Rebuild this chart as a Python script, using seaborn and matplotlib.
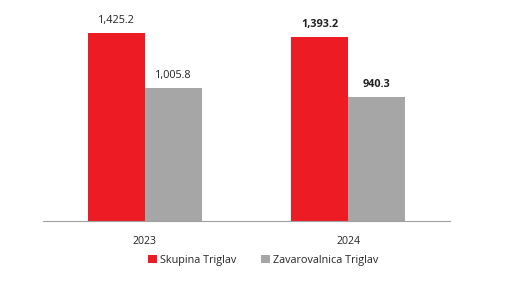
import matplotlib
matplotlib.use("Agg")
import matplotlib.pyplot as plt
import seaborn as sns
import pandas as pd

years = ["2023", "2024"]
series = ["Skupina Triglav", "Zavarovalnica Triglav"]
skupina = [1425.2, 1393.2]
zavarovalnica = [1005.8, 940.3]
colors = ["#ED1C24", "#A6A6A6"]

df = pd.DataFrame({
    "year": years * 2,
    "series": [series[0]] * 2 + [series[1]] * 2,
    "value": skupina + zavarovalnica,
})

sns.set_theme(style="white")
plt.rcParams["font.family"] = ["Open Sans", "DejaVu Sans"]

fig = plt.figure(figsize=(5.12, 3.0), dpi=100)
ax = fig.add_axes([43 / 512, 79 / 300, 407 / 512, 211 / 300])
sns.barplot(data=df, x="year", y="value", hue="series", palette=colors,
            width=0.56, ax=ax, legend=False, saturation=1, linewidth=0)
ax.set_ylim(0, 1600)
ax.set_xlim(-0.5, 1.5)
ax.set_xlabel("")
ax.set_ylabel("")
ax.set_yticks([])
for s in ["top", "right", "left"]:
    ax.spines[s].set_visible(False)
ax.spines["bottom"].set_color("#A0A0A0")
ax.spines["bottom"].set_linewidth(0.8)
ax.tick_params(axis="x", length=0, labelsize=7.6, pad=10.5, colors="#222222")

weights = ["normal", "bold"]
for cont in ax.containers:
    for i, bar in enumerate(cont):
        h = bar.get_height()
        ax.text(bar.get_x() + bar.get_width() / 2, h + 55, f"{h:,.1f}",
                ha="center", va="bottom", fontsize=7.8, color="#222222",
                fontweight=weights[i])

from matplotlib.patches import Patch
handles = [Patch(facecolor=c, edgecolor="none") for c in colors]
fig.legend(handles, series, loc="center", bbox_to_anchor=(263 / 512, 1 - 260 / 300),
           ncol=2, frameon=False, fontsize=7.8, handlelength=0.8, handleheight=0.8,
           handletextpad=0.3, columnspacing=2.3)

fig.savefig("out.png", dpi=100, facecolor="white")
